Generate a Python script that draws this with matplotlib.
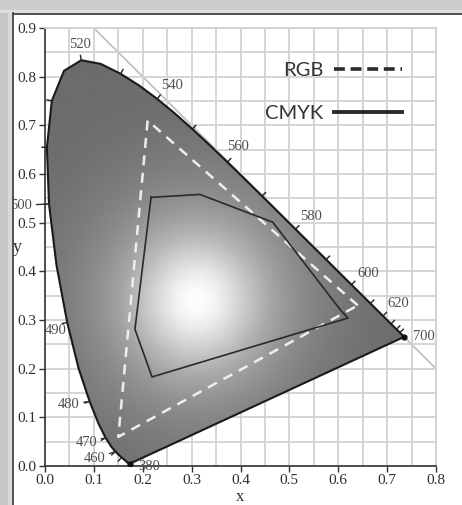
import numpy as np
import matplotlib.pyplot as plt
from matplotlib.patches import Polygon, Rectangle
from matplotlib.lines import Line2D

# CIE 1931 spectral locus (nm, x, y)
wl = [380, 385, 390, 395, 400, 405, 410, 415, 420, 425, 430, 435, 440, 445,
      450, 455, 460, 465, 470, 475, 480, 485, 490, 495, 500, 505, 510, 515,
      520, 525, 530, 535, 540, 545, 550, 555, 560, 565, 570, 575, 580, 585,
      590, 595, 600, 605, 610, 615, 620, 625, 630, 635, 640, 645, 650, 660,
      670, 680, 700]
lx = [0.1741, 0.1740, 0.1738, 0.1736, 0.1733, 0.1730, 0.1726, 0.1721, 0.1714,
      0.1703, 0.1689, 0.1669, 0.1644, 0.1611, 0.1566, 0.1510, 0.1440, 0.1355,
      0.1241, 0.1096, 0.0913, 0.0687, 0.0454, 0.0235, 0.0082, 0.0039, 0.0139,
      0.0389, 0.0743, 0.1142, 0.1547, 0.1929, 0.2296, 0.2658, 0.3016, 0.3373,
      0.3731, 0.4087, 0.4441, 0.4788, 0.5125, 0.5448, 0.5752, 0.6029, 0.6270,
      0.6482, 0.6658, 0.6801, 0.6915, 0.7006, 0.7079, 0.7140, 0.7190, 0.7230,
      0.7260, 0.7300, 0.7320, 0.7334, 0.7347]
ly = [0.0050, 0.0050, 0.0049, 0.0049, 0.0048, 0.0048, 0.0048, 0.0048, 0.0051,
      0.0058, 0.0069, 0.0086, 0.0109, 0.0138, 0.0177, 0.0227, 0.0297, 0.0399,
      0.0578, 0.0868, 0.1327, 0.2007, 0.2950, 0.4127, 0.5384, 0.6548, 0.7502,
      0.8120, 0.8338, 0.8262, 0.8059, 0.7816, 0.7543, 0.7243, 0.6923, 0.6589,
      0.6245, 0.5896, 0.5547, 0.5202, 0.4866, 0.4544, 0.4242, 0.3965, 0.3725,
      0.3514, 0.3340, 0.3197, 0.3083, 0.2993, 0.2920, 0.2859, 0.2809, 0.2770,
      0.2740, 0.2700, 0.2680, 0.2666, 0.2653]

tick_wl = [450, 460, 470, 480, 490, 500, 505, 510, 520, 530, 540, 550, 560,
           570, 580, 590, 600, 610, 620, 630, 640, 650]

# wavelength labels and their text offsets (points)
label_wl = [380, 460, 470, 480, 490, 500, 520, 540, 560, 580, 600, 620, 700]
label_off = [(14, -2), (-15, -5), (-14, -3), (-15, -2), (-8, -6), (-20, -1),
             (-1, 11), (11, 10), (8, 11), (11, 9), (12, 8), (11, 9), (14, 0)]
label_line = [False, True, True, True, False, True,
              False, False, False, False, False, False, False]

rgb_x = [0.64, 0.21, 0.15]
rgb_y = [0.33, 0.71, 0.06]

cmyk_x = [0.217, 0.317, 0.466, 0.605, 0.620, 0.219, 0.184]
cmyk_y = [0.552, 0.558, 0.501, 0.320, 0.304, 0.183, 0.281]

W, H = 462, 505
fig = plt.figure(figsize=(W / 100, H / 100), dpi=100, facecolor='white')

# picture frame
fig.patches.append(Rectangle((0, 0), 12 / W, 1, transform=fig.transFigure,
                             fc='#c6c6c6', ec='none', zorder=0))
fig.patches.append(Rectangle((8 / W, 0), 4 / W, 1, transform=fig.transFigure,
                             fc='#dadada', ec='none', zorder=0))
fig.patches.append(Rectangle((0, 1 - 13 / H), 1, 13 / H, transform=fig.transFigure,
                             fc='#cdcdcd', ec='none', zorder=0))
fig.patches.append(Rectangle((0, 1 - 13 / H), 1, 3 / H, transform=fig.transFigure,
                             fc='#dedede', ec='none', zorder=0))
fig.lines.append(Line2D([12.5 / W, 12.5 / W], [0, 1 - 13 / H], transform=fig.transFigure,
                        color='#444444', lw=1.3))
fig.lines.append(Line2D([12.5 / W, 1], [1 - 13.5 / H, 1 - 13.5 / H], transform=fig.transFigure,
                        color='#444444', lw=1.3))

ax = fig.add_axes([45 / W, 39 / H, 391 / W, 438 / H])
ax.set_facecolor('none')
ax.set_xlim(0, 0.8)
ax.set_ylim(0, 0.9)

ax.set_xticks(np.arange(0, 0.81, 0.1))
ax.set_yticks(np.arange(0, 0.91, 0.1))
ax.set_xticks(np.arange(0.05, 0.8, 0.1), minor=True)
ax.set_yticks(np.arange(0.05, 0.9, 0.1), minor=True)
ax.grid(True, which='both', color='#d2d2d2', lw=1.3, zorder=0)
ax.tick_params(which='minor', length=0)
ax.tick_params(which='major', direction='out', length=4, width=1, color='#333333',
               labelsize=11, labelcolor='#2e2e2e', pad=2)
for s in ['top', 'right']:
    ax.spines[s].set_color('#d2d2d2')
    ax.spines[s].set_linewidth(1.3)
for s in ['left', 'bottom']:
    ax.spines[s].set_color('#333333')
    ax.spines[s].set_linewidth(1.2)
ax.set_xticklabels([f'{v:.1f}' for v in np.arange(0, 0.81, 0.1)])
ax.set_yticklabels([f'{v:.1f}' for v in np.arange(0, 0.91, 0.1)])
for lab in ax.get_xticklabels() + ax.get_yticklabels():
    lab.set_family('Liberation Serif')

ax.set_xlabel('x', family='Liberation Serif', fontsize=12, color='#2e2e2e',
              va='baseline')
ax.xaxis.set_label_coords(0.5, -0.08)
ax.set_ylabel('y', family='Liberation Serif', fontsize=13, color='#2e2e2e', rotation=0,
              va='center', ha='center')
ax.yaxis.set_label_coords(-0.072, 0.5)

# x + y = 1 line
ax.plot([0.1, 0.8], [0.9, 0.2], color='#bdbdbd', lw=1.2, zorder=1)

# shaded gamut
locus = Polygon(np.column_stack([lx, ly]), closed=True, fc='none', ec='none')
ax.add_patch(locus)
gx, gy = np.meshgrid(np.linspace(0, 0.8, 400), np.linspace(0, 0.9, 450))
r2 = (gx - 0.31) ** 2 + ((gy - 0.34) / 1.05) ** 2
shade = 0.42 + 0.30 * np.exp(-r2 / (2 * 0.16 ** 2)) + 0.27 * np.exp(-r2 / (2 * 0.08 ** 2))
shade = np.clip(shade, 0, 1)
im = ax.imshow(shade, extent=[0, 0.8, 0, 0.9], origin='lower', cmap='gray',
               vmin=0, vmax=1, aspect='auto', zorder=2, interpolation='bilinear')
im.set_clip_path(locus)

# outline
ax.plot(lx + [lx[0]], ly + [ly[0]], color='#1a1a1a', lw=1.5, zorder=5)
ax.plot([lx[0], lx[-1]], [ly[0], ly[-1]], 'o', color='#111111', ms=3.5, zorder=6)

# ticks along the locus
pts = np.column_stack([lx, ly])
for w in tick_wl:
    i = wl.index(w)
    t = pts[min(i + 1, len(pts) - 1)] - pts[max(i - 1, 0)]
    t = t / np.hypot(*t)
    n = np.array([-t[1], t[0]])
    p = pts[i]
    ax.plot([p[0], p[0] + 0.01 * n[0]], [p[1], p[1] + 0.01 * n[1]],
            color='#222222', lw=1.0, zorder=5, clip_on=False)

for w, off, ln in zip(label_wl, label_off, label_line):
    i = wl.index(w)
    ax.annotate(str(w), (lx[i], ly[i]), xytext=off, textcoords='offset points',
                ha='center', va='center', family='Liberation Serif', fontsize=10.5,
                color='#505050', zorder=7, annotation_clip=False,
                arrowprops=dict(arrowstyle='-', color='#333333', lw=1.0,
                                shrinkA=1, shrinkB=0) if ln else None)

# gamuts
ax.plot(rgb_x + [rgb_x[0]], rgb_y + [rgb_y[0]], color='#eeeeee', lw=1.8,
        ls=(0, (4, 3)), zorder=6)
ax.plot(cmyk_x + [cmyk_x[0]], cmyk_y + [cmyk_y[0]], color='#2a2a2a', lw=1.2, zorder=6)

handles = [Line2D([], [], color='#2a2a2a', lw=2.6, ls=(0, (3, 1.6))),
           Line2D([], [], color='#2a2a2a', lw=2.8)]
leg = ax.legend(handles, ['RGB', 'CMYK'], markerfirst=False, frameon=False,
                loc='upper right', bbox_to_anchor=(402 / W, 1 - 62 / H),
                bbox_transform=fig.transFigure, handlelength=3.4, handletextpad=0.5,
                labelspacing=1.3, borderpad=0, borderaxespad=0,
                prop={'family': 'Lato', 'size': 14.5})
for t in leg.get_texts():
    t.set_color('#333333')

fig.savefig('out.png', dpi=100, facecolor=fig.get_facecolor())
